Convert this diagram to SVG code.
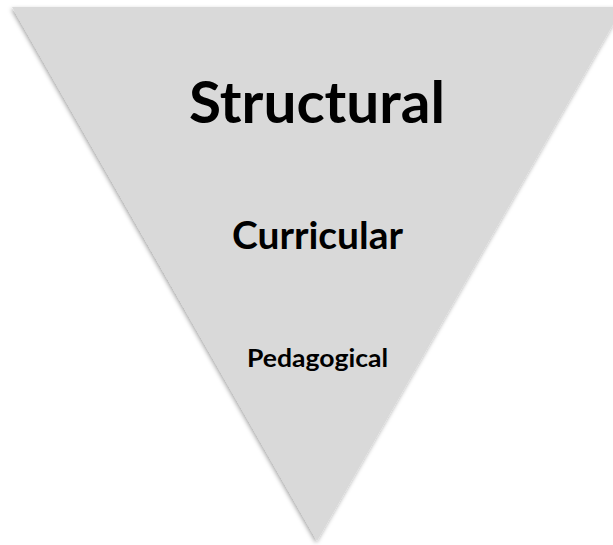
<svg xmlns="http://www.w3.org/2000/svg" width="613" height="545" viewBox="0 0 613 545">
  <defs>
    <filter id="softShadow" x="-10%" y="-10%" width="120%" height="120%">
      <feDropShadow dx="-1" dy="2" stdDeviation="2" flood-color="#000" flood-opacity="0.35"/>
    </filter>
    <style>
      .label { font-family: Lato, "Liberation Sans", Arial, sans-serif; font-weight: bold; fill: #000; text-anchor: middle; }
    </style>
  </defs>
  <rect width="613" height="545" fill="#ffffff"/>
  <!-- inverted funnel -->
  <g id="funnel">
    <polygon points="12,7 623,7 317,541" fill="#d9d9d9" filter="url(#softShadow)"/>
  </g>
  <g id="level-structural">
    <text class="label" x="317" y="123" font-size="58" textLength="256" lengthAdjust="spacingAndGlyphs">Structural</text>
  </g>
  <g id="level-curricular">
    <text class="label" x="317.5" y="249" font-size="38" textLength="171" lengthAdjust="spacingAndGlyphs">Curricular</text>
  </g>
  <g id="level-pedagogical">
    <text class="label" x="317.5" y="367" font-size="25" textLength="141" lengthAdjust="spacingAndGlyphs">Pedagogical</text>
  </g>
</svg>
